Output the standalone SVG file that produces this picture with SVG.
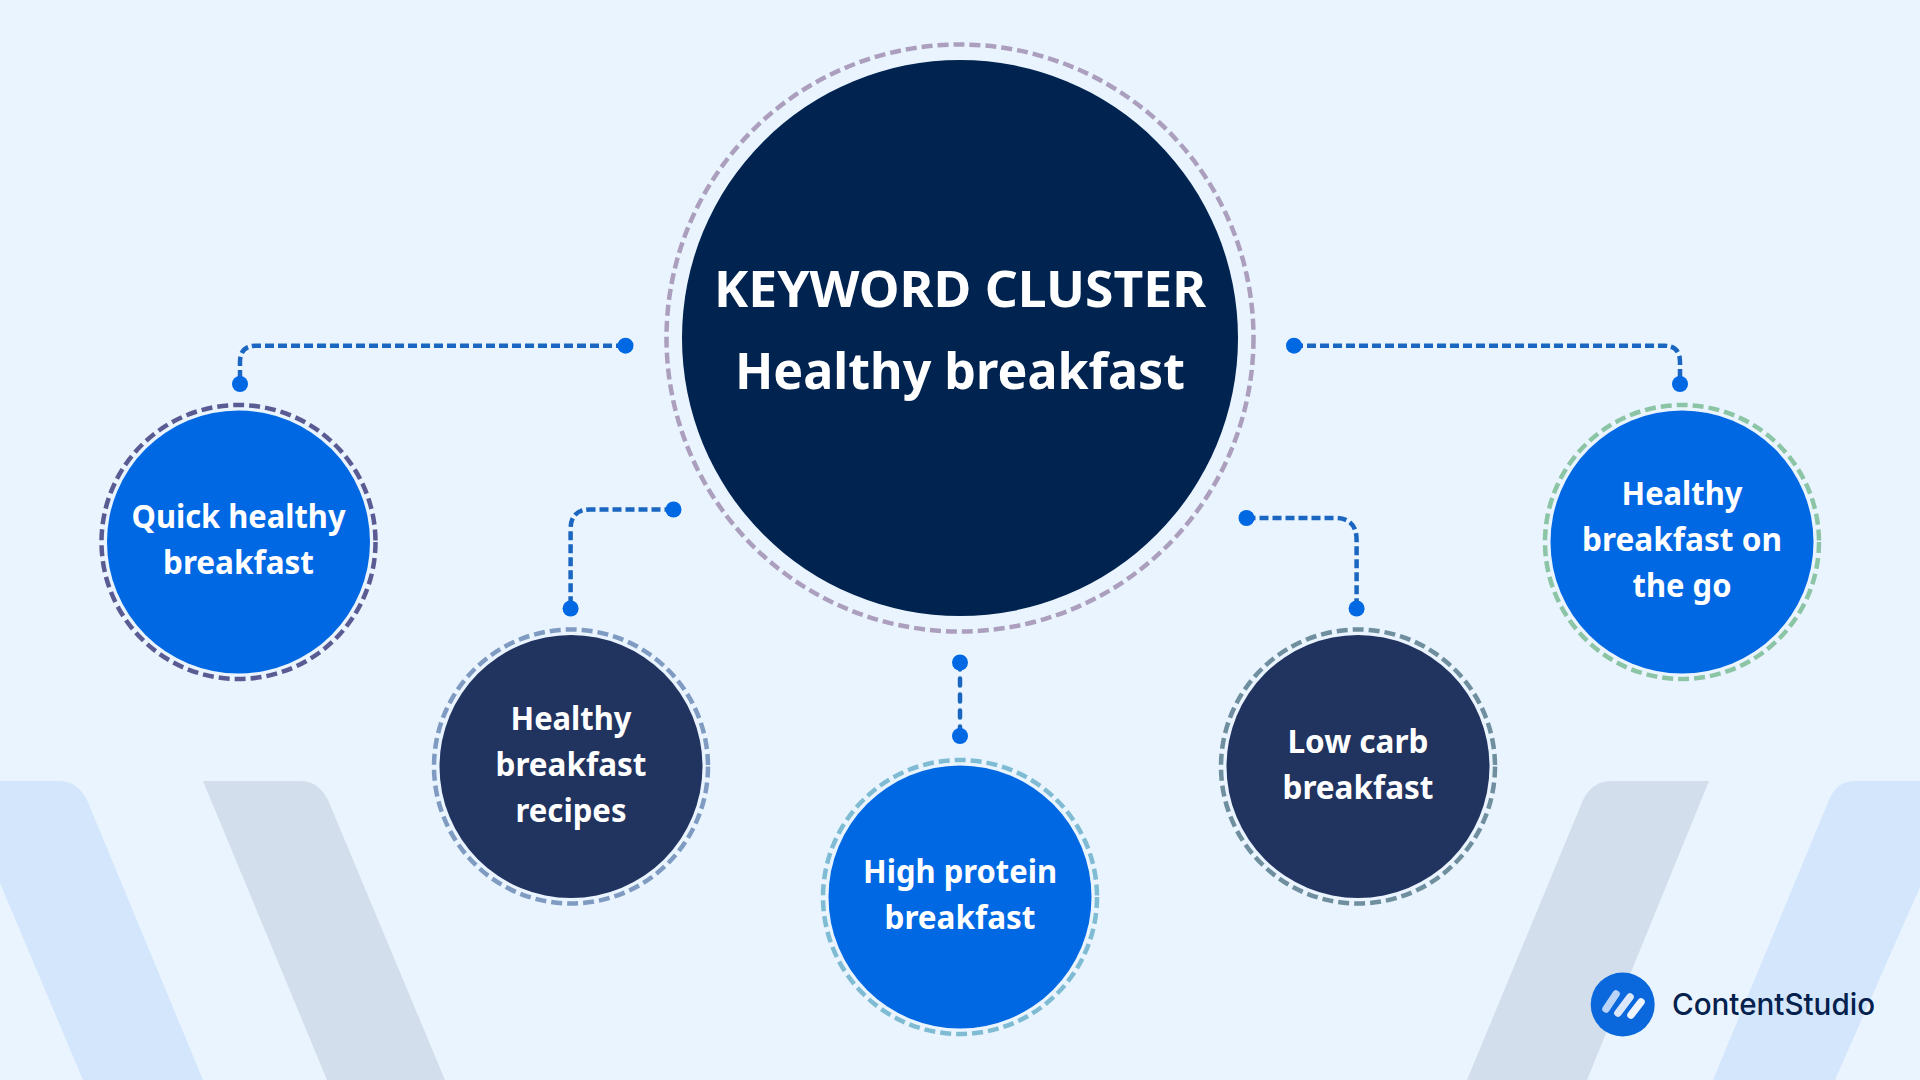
<svg xmlns="http://www.w3.org/2000/svg" width="1920" height="1080" viewBox="0 0 1920 1080">
<style>
.t{font-family:"Noto Sans","Open Sans",sans-serif;font-weight:700;fill:#fff;text-anchor:middle}
.n{font-size:33px}
.h{font-size:51px}
.ring{fill:none;stroke-width:4.5;stroke-dasharray:11 5}
.blue{fill:#0068e3}
.navy{fill:#21335f}
.c{fill:none;stroke:#1a66c0;stroke-width:4.5;stroke-dasharray:9 4}
.v{stroke-dasharray:7 9;stroke-linecap:round}
.d{fill:#0068e3}
</style>
<rect width="1920" height="1080" fill="#eaf4ff"/>
<g id="background">
<path d="M0 781H58C72 781 81 788 87 800L203 1080H83L0 883Z" fill="#d3e6fb"/>
<path d="M203 781H300C313 781 322 788 328 800L445 1080H327Z" fill="#d2deeb"/>
<path d="M1709 781H1612C1598 781 1589 788 1583 800L1467 1080H1587Z" fill="#d2deeb"/>
<path d="M1920 781H1855C1842 781 1834 788 1829 800L1713 1080H1835L1920 887Z" fill="#d3e6fb"/>
</g>
<g id="connectors">
<path class="c" d="M625 345.7H256Q240 345.7 240 362V384"/>
<path class="c" d="M673.5 509.5H590Q570.6 509.5 570.6 529V608.5"/>
<path class="c v" d="M960 662.5V736"/>
<path class="c" d="M1246.5 518H1335Q1356.6 518 1356.6 540V608.5"/>
<path class="c" d="M1294 345.7H1664Q1680 345.7 1680 362V384"/>
<circle class="d" cx="625.5" cy="345.7" r="8"/><circle class="d" cx="240" cy="384" r="8"/>
<circle class="d" cx="673.5" cy="509.5" r="8"/><circle class="d" cx="570.6" cy="608.5" r="8"/>
<circle class="d" cx="960" cy="662.5" r="8"/><circle class="d" cx="960" cy="736" r="8"/>
<circle class="d" cx="1246.5" cy="518" r="8"/><circle class="d" cx="1356.6" cy="608.5" r="8"/>
<circle class="d" cx="1294" cy="345.7" r="8"/><circle class="d" cx="1680" cy="384" r="8"/>
</g>
<g id="center">
<circle cx="960" cy="338" r="293.5" class="ring" stroke="#ab9fbd"/>
<circle cx="960" cy="338" r="278" fill="#012350"/>
<text class="t h" x="960" y="307" textLength="492" lengthAdjust="spacingAndGlyphs">KEYWORD CLUSTER</text>
<text class="t h" x="960" y="388.5" textLength="450" lengthAdjust="spacingAndGlyphs">Healthy breakfast</text>
</g>
<g id="quick">
<circle cx="238.5" cy="542" r="137" class="ring" stroke="#5b5b94"/>
<circle cx="238.5" cy="542" r="131.5" class="blue"/>
<text class="t n" x="238.5" y="527.5" textLength="214" lengthAdjust="spacingAndGlyphs">Quick healthy</text>
<text class="t n" x="238.5" y="574" textLength="151" lengthAdjust="spacingAndGlyphs">breakfast</text>
</g>
<g id="recipes">
<circle cx="571" cy="766.5" r="137" class="ring" stroke="#7f9bc2"/>
<circle cx="571" cy="766.5" r="131.5" class="navy"/>
<text class="t n" x="571" y="730" textLength="121" lengthAdjust="spacingAndGlyphs">Healthy</text>
<text class="t n" x="571" y="776" textLength="151" lengthAdjust="spacingAndGlyphs">breakfast</text>
<text class="t n" x="571" y="822" textLength="111" lengthAdjust="spacingAndGlyphs">recipes</text>
</g>
<g id="protein">
<circle cx="960" cy="897" r="137" class="ring" stroke="#7fbcd4"/>
<circle cx="960" cy="897" r="131.5" class="blue"/>
<text class="t n" x="960" y="883" textLength="194" lengthAdjust="spacingAndGlyphs">High protein</text>
<text class="t n" x="960" y="929" textLength="151" lengthAdjust="spacingAndGlyphs">breakfast</text>
</g>
<g id="lowcarb">
<circle cx="1358" cy="766.5" r="137" class="ring" stroke="#6f8f9f"/>
<circle cx="1358" cy="766.5" r="131.5" class="navy"/>
<text class="t n" x="1358" y="753" textLength="141" lengthAdjust="spacingAndGlyphs">Low carb</text>
<text class="t n" x="1358" y="799" textLength="151" lengthAdjust="spacingAndGlyphs">breakfast</text>
</g>
<g id="onthego">
<circle cx="1682" cy="542" r="137" class="ring" stroke="#8cc5a5"/>
<circle cx="1682" cy="542" r="131.5" class="blue"/>
<text class="t n" x="1682" y="505" textLength="121" lengthAdjust="spacingAndGlyphs">Healthy</text>
<text class="t n" x="1682" y="551" textLength="200" lengthAdjust="spacingAndGlyphs">breakfast on</text>
<text class="t n" x="1682" y="597" textLength="99" lengthAdjust="spacingAndGlyphs">the go</text>
</g>
<g id="logo">
<circle cx="1622.7" cy="1004.5" r="32" fill="#0a68dc"/>
<g stroke-width="7.5" stroke-linecap="round" fill="none">
<path d="M1606 1009L1616 994" stroke="#b9d4f6"/>
<path d="M1618 1013L1630 997" stroke="#dbe8fb"/>
<path d="M1631 1015L1641 1002" stroke="#eef5fe"/>
</g>
<text x="1672" y="1015" font-family="Inter,sans-serif" font-weight="500" font-size="30" fill="#03214c" textLength="203" lengthAdjust="spacingAndGlyphs">ContentStudio</text>
</g>
</svg>
